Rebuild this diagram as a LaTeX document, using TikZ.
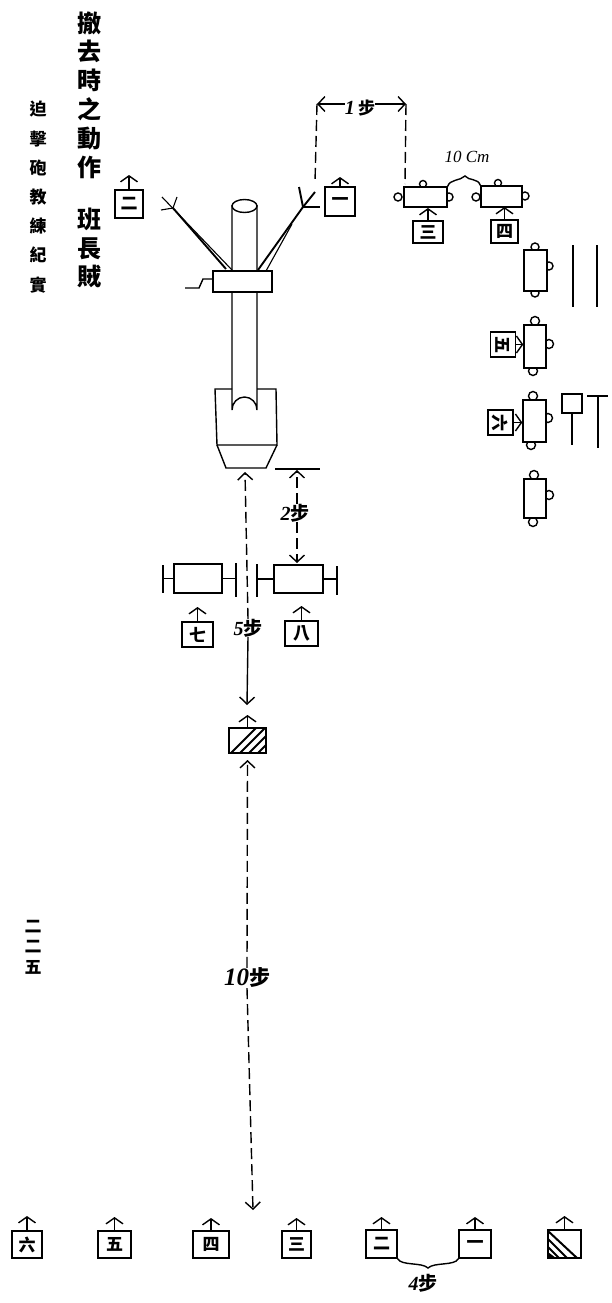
\documentclass[tikz,border=0pt]{standalone}
\usepackage{fontspec}
\setmainfont{Liberation Serif}
\newfontfamily\cjk{Noto Sans CJK TC}[Scale=1]
\usetikzlibrary{arrows.meta}
\tikzset{
 ink/.style={line width=1.4pt,black},
 solbox/.style={draw,ink,inner sep=0pt,fill=white,font=\cjk\bfseries\fontsize{17}{17}\selectfont},
 solarrow/.style={ink,-{Straight Barb[length=6pt,width=17pt]}},
 dimarrow/.style={ink,-{Straight Barb[length=7pt,width=15pt]}},
 dashline/.style={dash pattern=on 11pt off 5pt},
 gunbox/.style={draw,ink,inner sep=0pt,fill=white},
 collum/.style={align=center,inner sep=0pt,font=\cjk\bfseries\fontsize{24}{28.8}\selectfont},
 subcol/.style={align=center,inner sep=0pt,font=\cjk\bfseries\fontsize{17}{29.2}\selectfont},
 pagecol/.style={align=center,inner sep=0pt,font=\cjk\bfseries\fontsize{17}{20.5}\selectfont},
 hand/.style={inner sep=1pt,font=\itshape\bfseries\fontsize{20}{20}\selectfont},
 thinleg/.style={line width=1.1pt,black},
 thickleg/.style={line width=1.9pt,black}
}
% name, cx, cy, w, h, char, tip y
\newcommand\soldier[7]{%
 \node[solbox,minimum width=#4pt,minimum height=#5pt] (#1) at (#2,#3) {#6};
 \coordinate (#1tip) at (#2,#7);
 \draw[solarrow] (#1.north) -- (#1tip);
}
\newcommand\gunrect[5]{\node[gunbox,minimum width=#4pt,minimum height=#5pt] (#1) at (#2,#3) {};}
\newcommand\knob[3]{\draw[ink,fill=white] (#1,#2) circle (#3pt);}
\begin{document}
\begin{tikzpicture}[x=1pt,y=-1pt]
\fill[white] (0,0) rectangle (611,1303);
\useasboundingbox (0,0) rectangle (611,1303);

% text columns
\node[collum] (title) at (89,95) {撤\\去\\時\\之\\動\\作};
\node[collum] (author) at (89,248) {班\\長\\賊};
\node[subcol] (book) at (38,197) {迫\\擊\\砲\\教\\練\\紀\\實};
\node[pagecol] (page) at (33,947) {二\\二\\五};

% main gun
\draw[ink] (232,205) -- (232,410) arc[start angle=180,end angle=360,x radius=12.5,y radius=13] -- (257,205);
\draw[ink,fill=white] (244.5,206) ellipse[x radius=12.5,y radius=6.5];
\draw[ink] (232,389) -- (215,389) -- (217,445) -- (277,445) -- (276,389) -- (257,389);
\draw[ink] (217,445) -- (226,468) -- (266,468) -- (277,445);
\coordinate (plate) at (245,472);

% bipod legs
\draw[thinleg] (232,270) -- (162,197);
\draw[thickleg] (173,208) -- (226,269);
\draw[thinleg] (173,208) -- (177,197);
\draw[thinleg] (173,208) -- (161,210);
\draw[thickleg] (258,270) -- (303,207);
\draw[thinleg] (266,271) -- (292,224);
\draw[thickleg] (303,207) -- (299,187);
\draw[thickleg] (303,207) -- (315,192);
\draw[thickleg] (303,207) -- (320,207);
\gunrect{collar}{242.5}{281.5}{59}{21}
\draw[ink] (collar.west|-0,279) -- (203,279) -- (199,288) -- (185,288);

% top soldiers
\soldier{sa}{129}{204}{28}{28}{二}{175}
\soldier{sb}{340}{201.5}{30}{29}{一}{177}

% pacing dimension
\coordinate (pl) at (317,104);
\coordinate (pr) at (406,104);
\node[hand,inner sep=0pt] (onestep) at (360,108) {\itshape 1\,{\cjk\fontsize{17}{17}\selectfont 步}};
\draw[dimarrow] (onestep.west|-pl) -- (pl);
\draw[dimarrow] (onestep.east|-pr) -- (pr);
\draw[ink,dashline] (pl) -- (315,182);
\draw[ink,dashline] (pr) -- (405,184);

% horizontal bipods
\knob{423}{184}{3.5}
\knob{398}{197}{4}
\knob{449}{197}{4}
\gunrect{ga}{425.5}{197}{43}{20}
\knob{498}{183}{3.5}
\knob{476}{197}{4}
\knob{525}{196}{4}
\gunrect{gb}{501.5}{196.5}{41}{21}
\draw[ink] (ga.north east) .. controls (450,179) and (460,181) .. (465,176) .. controls (469,181) and (478,178) .. (gb.north west);
\node[hand,font=\itshape\fontsize{17}{17}\selectfont] (tencm) at (467,157) {10 Cm};
\soldier{sc}{428}{232}{30}{22}{三}{208}
\soldier{sd}{504.5}{231.5}{27}{23}{四}{207}

% vertical bipods
\knob{535}{247}{4}\knob{535}{293}{4}\knob{549}{266}{4}
\gunrect{gc}{535.5}{270.5}{23}{41}
\knob{535}{321}{4.5}\knob{533}{371}{4.5}\knob{549}{344}{4.5}
\gunrect{gd}{535}{346.5}{22}{43}
\knob{533}{396}{4.5}\knob{531}{445}{4.5}\knob{548}{418}{4.5}
\gunrect{ge}{534.5}{421}{23}{42}
\knob{534}{475}{4.5}\knob{533}{522}{4.5}\knob{549}{495}{4.5}
\gunrect{gf}{535}{498.5}{22}{39}

% rotated soldiers
\node[solbox,minimum width=25pt,minimum height=25pt,rotate=-90] (se) at (503,344.5) {五};
\coordinate (setip) at (gd.west|-se);
\draw[ink,-{Straight Barb[length=6pt,width=17pt]}] (se.north) -- (setip);
\node[solbox,minimum width=25pt,minimum height=25pt,rotate=-90] (sf) at (500.5,422.5) {六};
\coordinate (sftip) at (ge.west|-sf);
\draw[ink,-{Straight Barb[length=6pt,width=17pt]}] (sf.north) -- (sftip);

% stakes
\draw[ink] (573,245) -- (573,307);
\draw[ink] (597,245) -- (597,307);
\node[gunbox,minimum width=20pt,minimum height=19pt] (flag) at (572,403.5) {};
\draw[ink] (flag.south) -- (572,445);
\coordinate (tee) at (598,396);
\draw[ink] (587,396) -- (608,396);
\draw[ink] (tee) -- (598,448);

% dimension 2 steps
\draw[ink] (275,469) -- (320,469);
\coordinate (twotop) at (297,470);
\coordinate (twobot) at (297,563);
\node[hand,inner sep=0pt] (twostep) at (295,513) {\itshape 2{\cjk\fontsize{19}{19}\selectfont 步}};
\draw[dimarrow,dashline] (twotop|-twostep.north) -- (twotop);
\draw[dimarrow,dashline] (twobot|-twostep.south) -- (twobot);

% lower gun group
\gunrect{gl}{198}{578.5}{48}{29}
\gunrect{gr}{298.5}{579}{49}{28}
\draw[ink] (163,565) -- (163,593);
\draw[ink] (163,578.5) -- (gl.west);
\draw[ink] (236,563) -- (236,597);
\draw[ink] (gl.east) -- (236,578.5);
\draw[ink] (257,564) -- (257,597);
\draw[ink] (257,579) -- (gr.west);
\draw[ink] (337,566) -- (337,595);
\draw[ink] (gr.east) -- (337,579);
\soldier{sg}{197.5}{634.5}{31}{25}{七}{607}
\soldier{sh}{301.5}{633.5}{33}{25}{八}{606}

% five steps
\node[hand,inner sep=0pt] (fivestep) at (248,628) {\itshape 5{\cjk\fontsize{19}{19}\selectfont 步}};
\draw[dimarrow,dashline] (fivestep.north) -- (plate);

% hatched leader
\soldier{lead}{247.5}{740.5}{37}{25}{}{715}
\begin{scope}
\clip (229,728) rectangle (266,753);
\draw[line width=2pt] (231,753) -- (256,728);
\draw[line width=2pt] (240,753) -- (265,728);
\draw[line width=2pt] (249,753) -- (274,728);
\draw[line width=2pt] (258,753) -- (283,728);
\end{scope}
\draw[dimarrow] (fivestep.south) -- (247,705);

% ten steps
\node[hand,font=\itshape\bfseries\fontsize{25}{25}\selectfont,inner sep=0pt] (tenstep) at (247,978) {10{\cjk\fontsize{21}{21}\selectfont 步}};
\draw[dimarrow,dashline] (tenstep.north) -- (lead.south|-0,760);
\draw[dimarrow,dashline] (tenstep.south) -- (253,1210);

% bottom row
\soldier{bf}{27}{1244.5}{30}{27}{六}{1216}
\soldier{be}{114.5}{1244.5}{33}{27}{五}{1217}
\soldier{bd}{211}{1244.5}{36}{27}{四}{1218}
\soldier{bc}{296.5}{1244.5}{29}{27}{三}{1218}
\soldier{bb}{381.5}{1244}{31}{28}{二}{1217}
\soldier{ba}{475}{1244}{32}{28}{一}{1217}
\soldier{bl}{564.5}{1244}{33}{28}{}{1216}
\begin{scope}
\clip (548,1230) rectangle (581,1258);
\draw[line width=2pt] (548,1231) -- (577,1258);
\draw[line width=2pt] (548,1239) -- (567,1258);
\draw[line width=2pt] (548,1247) -- (559,1258);
\fill (548,1252) -- (556,1258) -- (548,1258) -- cycle;
\end{scope}
\draw[ink] (bb.south east) .. controls (401,1266) and (422,1262) .. (428,1268) .. controls (434,1262) and (455,1266) .. (ba.south west);
\node[hand,inner sep=0pt] (fourstep) at (423,1283) {\itshape 4{\cjk\fontsize{19}{19}\selectfont 步}};
\end{tikzpicture}
\end{document}
